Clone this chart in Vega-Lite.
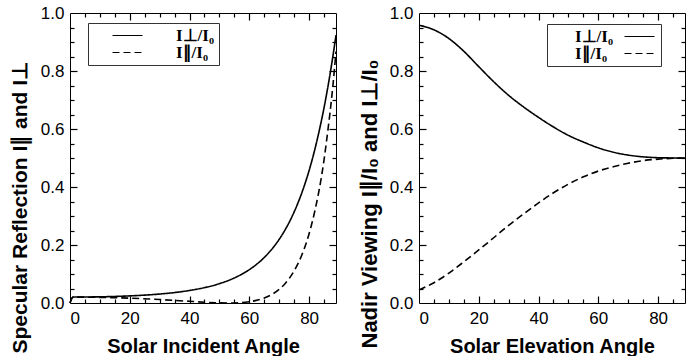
{
  "$schema": "https://vega.github.io/schema/vega-lite/v6.json",
  "background": "white",
  "padding": {"left": 8, "top": 3, "right": 4, "bottom": 2},
  "spacing": 17,
  "resolve": {"scale": {"strokeDash": "independent"}, "legend": {"strokeDash": "independent"}},
  "config": {
    "view": {"stroke": "black", "strokeWidth": 1},
    "axis": {"grid": false, "domain": false, "labelFont": "Liberation Sans", "labelFontSize": 17, "labelColor": "black", "tickColor": "black", "tickWidth": 1.2, "tickOpacity": 1, "titleFont": "Liberation Sans", "titleFontWeight": "bold", "titleColor": "black", "zindex": 2}
  },
  "datasets": {
    "left": [
      {"angle": 0, "value": 0, "series": "I⊥/I₀"},
      {"angle": 1, "value": 0.0204, "series": "I⊥/I₀"},
      {"angle": 10, "value": 0.0213, "series": "I⊥/I₀"},
      {"angle": 20, "value": 0.0245, "series": "I⊥/I₀"},
      {"angle": 30, "value": 0.0309, "series": "I⊥/I₀"},
      {"angle": 35, "value": 0.0360, "series": "I⊥/I₀"},
      {"angle": 40, "value": 0.0432, "series": "I⊥/I₀"},
      {"angle": 45, "value": 0.0530, "series": "I⊥/I₀"},
      {"angle": 50, "value": 0.0668, "series": "I⊥/I₀"},
      {"angle": 55, "value": 0.0865, "series": "I⊥/I₀"},
      {"angle": 60, "value": 0.1151, "series": "I⊥/I₀"},
      {"angle": 62, "value": 0.1299, "series": "I⊥/I₀"},
      {"angle": 65, "value": 0.1571, "series": "I⊥/I₀"},
      {"angle": 68, "value": 0.1916, "series": "I⊥/I₀"},
      {"angle": 70, "value": 0.2197, "series": "I⊥/I₀"},
      {"angle": 72, "value": 0.2528, "series": "I⊥/I₀"},
      {"angle": 75, "value": 0.3141, "series": "I⊥/I₀"},
      {"angle": 78, "value": 0.3925, "series": "I⊥/I₀"},
      {"angle": 80, "value": 0.4568, "series": "I⊥/I₀"},
      {"angle": 82, "value": 0.5330, "series": "I⊥/I₀"},
      {"angle": 84, "value": 0.6229, "series": "I⊥/I₀"},
      {"angle": 85, "value": 0.6734, "series": "I⊥/I₀"},
      {"angle": 86, "value": 0.7289, "series": "I⊥/I₀"},
      {"angle": 87, "value": 0.7885, "series": "I⊥/I₀"},
      {"angle": 88, "value": 0.8536, "series": "I⊥/I₀"},
      {"angle": 89, "value": 0.9238, "series": "I⊥/I₀"},
      {"angle": 0, "value": 0, "series": "I∥/I₀"},
      {"angle": 1, "value": 0.0204, "series": "I∥/I₀"},
      {"angle": 10, "value": 0.0194, "series": "I∥/I₀"},
      {"angle": 20, "value": 0.0166, "series": "I∥/I₀"},
      {"angle": 30, "value": 0.0119, "series": "I∥/I₀"},
      {"angle": 35, "value": 0.0089, "series": "I∥/I₀"},
      {"angle": 40, "value": 0.0058, "series": "I∥/I₀"},
      {"angle": 45, "value": 0.0028, "series": "I∥/I₀"},
      {"angle": 50, "value": 0.0005, "series": "I∥/I₀"},
      {"angle": 53, "value": 0.0, "series": "I∥/I₀"},
      {"angle": 55, "value": 0.0002, "series": "I∥/I₀"},
      {"angle": 60, "value": 0.0043, "series": "I∥/I₀"},
      {"angle": 62, "value": 0.0081, "series": "I∥/I₀"},
      {"angle": 65, "value": 0.0171, "series": "I∥/I₀"},
      {"angle": 68, "value": 0.0324, "series": "I∥/I₀"},
      {"angle": 70, "value": 0.0474, "series": "I∥/I₀"},
      {"angle": 72, "value": 0.0673, "series": "I∥/I₀"},
      {"angle": 75, "value": 0.1109, "series": "I∥/I₀"},
      {"angle": 78, "value": 0.1768, "series": "I∥/I₀"},
      {"angle": 80, "value": 0.2390, "series": "I∥/I₀"},
      {"angle": 82, "value": 0.3209, "series": "I∥/I₀"},
      {"angle": 84, "value": 0.4271, "series": "I∥/I₀"},
      {"angle": 85, "value": 0.4938, "series": "I∥/I₀"},
      {"angle": 86, "value": 0.5721, "series": "I∥/I₀"},
      {"angle": 87, "value": 0.6566, "series": "I∥/I₀"},
      {"angle": 88, "value": 0.7535, "series": "I∥/I₀"},
      {"angle": 89, "value": 0.8672, "series": "I∥/I₀"}
    ],
    "right": [
      {"angle": 0, "value": 0.958, "series": "I⊥/I₀"},
      {"angle": 5, "value": 0.942, "series": "I⊥/I₀"},
      {"angle": 10, "value": 0.912, "series": "I⊥/I₀"},
      {"angle": 15, "value": 0.868, "series": "I⊥/I₀"},
      {"angle": 20, "value": 0.815, "series": "I⊥/I₀"},
      {"angle": 25, "value": 0.763, "series": "I⊥/I₀"},
      {"angle": 30, "value": 0.716, "series": "I⊥/I₀"},
      {"angle": 35, "value": 0.676, "series": "I⊥/I₀"},
      {"angle": 40, "value": 0.640, "series": "I⊥/I₀"},
      {"angle": 45, "value": 0.607, "series": "I⊥/I₀"},
      {"angle": 50, "value": 0.578, "series": "I⊥/I₀"},
      {"angle": 55, "value": 0.555, "series": "I⊥/I₀"},
      {"angle": 60, "value": 0.535, "series": "I⊥/I₀"},
      {"angle": 65, "value": 0.520, "series": "I⊥/I₀"},
      {"angle": 70, "value": 0.510, "series": "I⊥/I₀"},
      {"angle": 75, "value": 0.504, "series": "I⊥/I₀"},
      {"angle": 80, "value": 0.501, "series": "I⊥/I₀"},
      {"angle": 85, "value": 0.500, "series": "I⊥/I₀"},
      {"angle": 89, "value": 0.499, "series": "I⊥/I₀"},
      {"angle": 0, "value": 0.045, "series": "I∥/I₀"},
      {"angle": 5, "value": 0.070, "series": "I∥/I₀"},
      {"angle": 10, "value": 0.103, "series": "I∥/I₀"},
      {"angle": 15, "value": 0.142, "series": "I∥/I₀"},
      {"angle": 20, "value": 0.183, "series": "I∥/I₀"},
      {"angle": 25, "value": 0.225, "series": "I∥/I₀"},
      {"angle": 30, "value": 0.268, "series": "I∥/I₀"},
      {"angle": 35, "value": 0.307, "series": "I∥/I₀"},
      {"angle": 40, "value": 0.345, "series": "I∥/I₀"},
      {"angle": 45, "value": 0.380, "series": "I∥/I₀"},
      {"angle": 50, "value": 0.410, "series": "I∥/I₀"},
      {"angle": 55, "value": 0.435, "series": "I∥/I₀"},
      {"angle": 60, "value": 0.455, "series": "I∥/I₀"},
      {"angle": 65, "value": 0.470, "series": "I∥/I₀"},
      {"angle": 70, "value": 0.482, "series": "I∥/I₀"},
      {"angle": 75, "value": 0.491, "series": "I∥/I₀"},
      {"angle": 80, "value": 0.496, "series": "I∥/I₀"},
      {"angle": 85, "value": 0.499, "series": "I∥/I₀"},
      {"angle": 89, "value": 0.500, "series": "I∥/I₀"}
    ]
  },
  "hconcat": [
    {
      "width": 266,
      "height": 290,
      "data": {"name": "left"},
      "layer": [
        {
          "mark": {"type": "line", "color": "black", "strokeWidth": 1.6, "interpolate": "monotone"},
          "encoding": {
            "x": {"field": "angle", "type": "quantitative", "scale": {"domain": [0, 89], "nice": false, "zero": false},
              "axis": {"orient": "bottom", "values": [0,20,40,60,80], "ticks": false, "labelPadding": 7, "title": "Solar Incident Angle", "titleFontSize": 20, "titlePadding": 10}},
            "y": {"field": "value", "type": "quantitative", "scale": {"domain": [0, 1], "nice": false},
              "axis": {"orient": "left", "values": [0,0.2,0.4,0.6,0.8,1], "format": ".1f", "ticks": false, "labelPadding": 6, "title": "Specular Reflection  I∥ and I⊥", "titleFontSize": 21, "titleAlign": "left", "titleY": 340, "titlePadding": 10}},
            "strokeDash": {"field": "series", "type": "nominal", "sort": ["I⊥/I₀", "I∥/I₀"],
              "scale": {"domain": ["I⊥/I₀", "I∥/I₀"], "range": [[1, 0], [7, 4]]},
              "legend": {"orient": "none", "legendX": 18, "legendY": 10, "title": null, "symbolType": "M-5,0H5", "symbolSize": 36, "symbolStrokeWidth": 1.2, "symbolStrokeColor": "black", "symbolFillColor": "transparent", "strokeColor": "#333", "fillColor": "white", "padding": 4, "symbolOffset": 27, "labelOffset": 40, "labelFont": "Liberation Serif", "labelFontWeight": "bold", "labelFontSize": 17, "labelColor": "black", "rowPadding": -2}}
          }
        },
        {
          "mark": {"type": "line", "opacity": 0},
          "encoding": {
            "x": {"field": "angle", "type": "quantitative", "axis": {"orient": "bottom", "values": [5,10,15,25,30,35,45,50,55,65,70,75,85], "labels": false, "title": null, "ticks": true, "tickSize": -4}},
            "y": {"field": "value", "type": "quantitative", "axis": {"orient": "left", "values": [0.05,0.1,0.15,0.25,0.3,0.35,0.45,0.5,0.55,0.65,0.7,0.75,0.85,0.9,0.95], "labels": false, "title": null, "ticks": true, "tickSize": -4}},
            "detail": {"field": "series"}
          }
        },
        {
          "mark": {"type": "line", "opacity": 0},
          "encoding": {
            "x": {"field": "angle", "type": "quantitative", "axis": {"orient": "top", "values": [5,10,15,25,30,35,45,50,55,65,70,75,85], "labels": false, "title": null, "ticks": true, "tickSize": -4}},
            "y": {"field": "value", "type": "quantitative", "axis": {"orient": "right", "values": [0.05,0.1,0.15,0.25,0.3,0.35,0.45,0.5,0.55,0.65,0.7,0.75,0.85,0.9,0.95], "labels": false, "title": null, "ticks": true, "tickSize": -4}},
            "detail": {"field": "series"}
          }
        },
        {
          "mark": {"type": "line", "opacity": 0},
          "encoding": {
            "x": {"field": "angle", "type": "quantitative", "axis": {"orient": "bottom", "values": [20,40,60,80], "labels": false, "title": null, "ticks": true, "tickSize": -7}},
            "y": {"field": "value", "type": "quantitative", "axis": {"orient": "left", "values": [0.2,0.4,0.6,0.8], "labels": false, "title": null, "ticks": true, "tickSize": -7}},
            "detail": {"field": "series"}
          }
        },
        {
          "mark": {"type": "line", "opacity": 0},
          "encoding": {
            "x": {"field": "angle", "type": "quantitative", "axis": {"orient": "top", "values": [20,40,60,80], "labels": false, "title": null, "ticks": true, "tickSize": -7}},
            "y": {"field": "value", "type": "quantitative", "axis": {"orient": "right", "values": [0.2,0.4,0.6,0.8], "labels": false, "title": null, "ticks": true, "tickSize": -7}},
            "detail": {"field": "series"}
          }
        }
      ],
      "resolve": {"axis": {"x": "independent", "y": "independent"}}
    },
    {
      "width": 266,
      "height": 290,
      "data": {"name": "right"},
      "layer": [
        {
          "mark": {"type": "line", "color": "black", "strokeWidth": 1.6, "interpolate": "monotone"},
          "encoding": {
            "x": {"field": "angle", "type": "quantitative", "scale": {"domain": [0, 89], "nice": false, "zero": false},
              "axis": {"orient": "bottom", "values": [0,20,40,60,80], "ticks": false, "labelPadding": 7, "title": "Solar Elevation Angle", "titleFontSize": 20, "titlePadding": 10}},
            "y": {"field": "value", "type": "quantitative", "scale": {"domain": [0, 1], "nice": false},
              "axis": {"orient": "left", "values": [0,0.2,0.4,0.6,0.8,1], "format": ".1f", "ticks": false, "labelPadding": 6, "title": "Nadir Viewing  I∥/I₀ and I⊥/I₀", "titleFontSize": 22, "titleAlign": "left", "titleY": 335, "titlePadding": 8}},
            "strokeDash": {"field": "series", "type": "nominal", "sort": ["I⊥/I₀", "I∥/I₀"],
              "scale": {"domain": ["I⊥/I₀", "I∥/I₀"], "range": [[1, 0], [7, 4]]},
              "legend": {"orient": "none", "legendX": 128, "legendY": 11, "title": null, "symbolType": "M-5,0H5", "symbolSize": 36, "symbolStrokeWidth": 1.2, "symbolStrokeColor": "black", "symbolFillColor": "transparent", "strokeColor": "#333", "fillColor": "white", "padding": 4, "symbolOffset": 80, "labelOffset": -73, "labelFont": "Liberation Serif", "labelFontWeight": "bold", "labelFontSize": 17, "labelColor": "black", "rowPadding": -2}}
          }
        },
        {
          "mark": {"type": "line", "opacity": 0},
          "encoding": {
            "x": {"field": "angle", "type": "quantitative", "axis": {"orient": "bottom", "values": [5,10,15,25,30,35,45,50,55,65,70,75,85], "labels": false, "title": null, "ticks": true, "tickSize": -4}},
            "y": {"field": "value", "type": "quantitative", "axis": {"orient": "left", "values": [0.05,0.1,0.15,0.25,0.3,0.35,0.45,0.5,0.55,0.65,0.7,0.75,0.85,0.9,0.95], "labels": false, "title": null, "ticks": true, "tickSize": -4}},
            "detail": {"field": "series"}
          }
        },
        {
          "mark": {"type": "line", "opacity": 0},
          "encoding": {
            "x": {"field": "angle", "type": "quantitative", "axis": {"orient": "top", "values": [5,10,15,25,30,35,45,50,55,65,70,75,85], "labels": false, "title": null, "ticks": true, "tickSize": -4}},
            "y": {"field": "value", "type": "quantitative", "axis": {"orient": "right", "values": [0.05,0.1,0.15,0.25,0.3,0.35,0.45,0.5,0.55,0.65,0.7,0.75,0.85,0.9,0.95], "labels": false, "title": null, "ticks": true, "tickSize": -4}},
            "detail": {"field": "series"}
          }
        },
        {
          "mark": {"type": "line", "opacity": 0},
          "encoding": {
            "x": {"field": "angle", "type": "quantitative", "axis": {"orient": "bottom", "values": [20,40,60,80], "labels": false, "title": null, "ticks": true, "tickSize": -7}},
            "y": {"field": "value", "type": "quantitative", "axis": {"orient": "left", "values": [0.2,0.4,0.6,0.8], "labels": false, "title": null, "ticks": true, "tickSize": -7}},
            "detail": {"field": "series"}
          }
        },
        {
          "mark": {"type": "line", "opacity": 0},
          "encoding": {
            "x": {"field": "angle", "type": "quantitative", "axis": {"orient": "top", "values": [20,40,60,80], "labels": false, "title": null, "ticks": true, "tickSize": -7}},
            "y": {"field": "value", "type": "quantitative", "axis": {"orient": "right", "values": [0.2,0.4,0.6,0.8], "labels": false, "title": null, "ticks": true, "tickSize": -7}},
            "detail": {"field": "series"}
          }
        }
      ],
      "resolve": {"axis": {"x": "independent", "y": "independent"}}
    }
  ]
}
